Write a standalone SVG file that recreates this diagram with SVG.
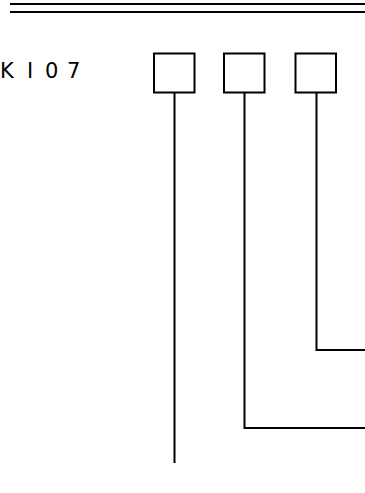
<svg xmlns="http://www.w3.org/2000/svg" width="365" height="493" viewBox="0 0 365 493">
<style>
.ln{fill:none;stroke:#000;stroke-width:2}
.bx{fill:#fff;stroke:#000;stroke-width:2}
.t{font-family:"DejaVu Sans",sans-serif;font-size:21px;fill:#000}
</style>
<rect width="365" height="493" fill="#fff"/>
<g id="header">
<line class="ln" x1="10" y1="4" x2="365" y2="4"/>
<line class="ln" x1="10" y1="12" x2="365" y2="12"/>
</g>
<g id="label"><text class="t" y="77.5"><tspan x="0">K</tspan><tspan x="27">I</tspan><tspan x="45">0</tspan><tspan x="67">7</tspan></text></g>
<g id="connectors">
<polyline class="ln" points="174.5,93 174.5,463"/>
<polyline class="ln" points="244.5,93 244.5,428 365,428"/>
<polyline class="ln" points="316.5,93 316.5,350 365,350"/>
</g>
<g id="box1"><rect class="bx" x="154" y="53.5" width="40.5" height="39"/></g>
<g id="box2"><rect class="bx" x="224" y="53.5" width="40.5" height="39"/></g>
<g id="box3"><rect class="bx" x="295.5" y="53.5" width="40.5" height="39"/></g>
</svg>
